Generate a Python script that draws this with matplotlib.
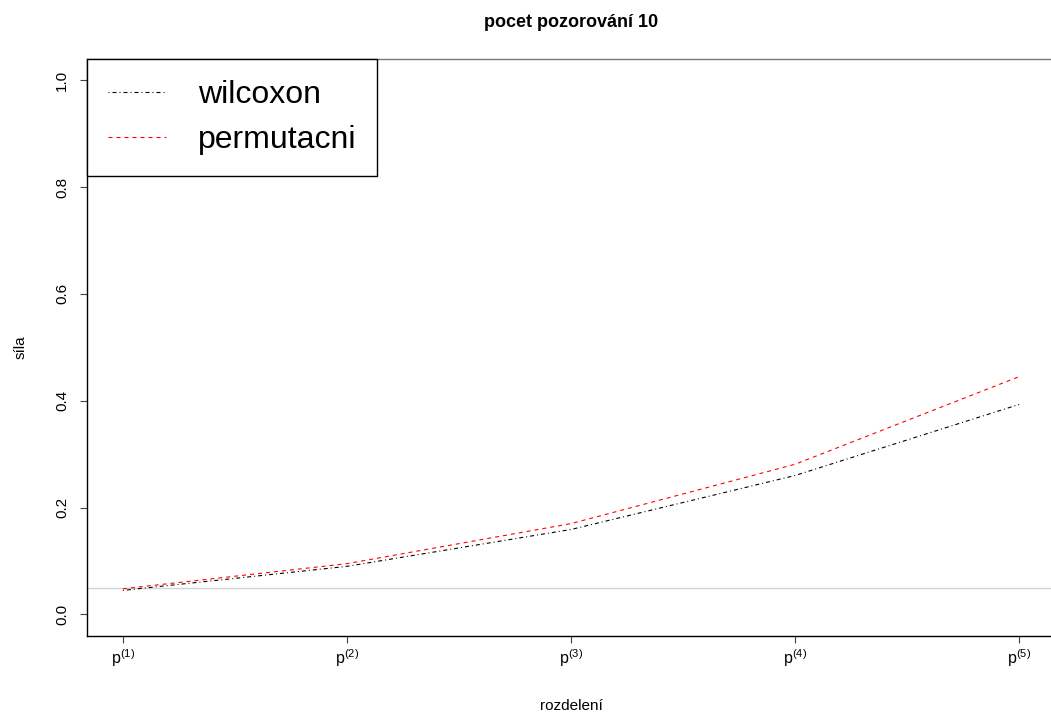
import matplotlib.pyplot as plt

plt.rcParams['font.family'] = ['Liberation Sans', 'DejaVu Sans']
plt.rcParams['mathtext.default'] = 'regular'

# power of the two tests for each distribution, 10 observations
rozdeleni = [1, 2, 3, 4, 5]
tick_labels = ['$p^{(1)}$', '$p^{(2)}$', '$p^{(3)}$', '$p^{(4)}$', '$p^{(5)}$']
wilcoxon = [0.045, 0.090, 0.159, 0.260, 0.393]
permutacni = [0.048, 0.095, 0.170, 0.281, 0.445]
alpha = 0.05

fig = plt.figure(figsize=(10.51, 7.16), dpi=100)
ax = fig.add_axes([0.0828, 0.112, 0.921, 0.806])

ax.axhline(alpha, color='#d3d3d3', lw=1.0, zorder=1)
ax.plot(rozdeleni, wilcoxon, color='black', lw=0.8, dashes=(0.9, 2.7, 3.6, 2.7),
        label='wilcoxon', zorder=2)
ax.plot(rozdeleni, permutacni, color='red', lw=0.8, dashes=(3.6, 3.6),
        label='permutacni', zorder=3)

ax.set_xlim(0.84, 5.16)
ax.set_ylim(-0.04, 1.04)
ax.set_xticks(rozdeleni)
ax.set_xticklabels(tick_labels, fontsize=11.5)
ax.set_yticks([0.0, 0.2, 0.4, 0.6, 0.8, 1.0])
ax.set_yticklabels(['0.0', '0.2', '0.4', '0.6', '0.8', '1.0'], fontsize=11,
                   rotation=90, va='center')
ax.tick_params(axis='both', length=5, width=0.8, color='#444444')
ax.tick_params(axis='y', pad=8)
ax.tick_params(axis='x', pad=3)

for side in ['left', 'bottom']:
    ax.spines[side].set_linewidth(1.0)
    ax.spines[side].set_color('black')
ax.spines['top'].set_color('#777777')
ax.spines['top'].set_linewidth(1.0)
ax.spines['right'].set_visible(False)

ax.set_title('pocet pozorování 10', fontsize=13, fontweight='bold', pad=23)
ax.set_xlabel('rozdelení', fontsize=11, labelpad=22)
ax.set_ylabel('síla', fontsize=11, labelpad=20)

leg = ax.legend(loc='upper left', bbox_to_anchor=(0, 1), borderaxespad=0,
                fontsize=23, handlelength=1.8, handletextpad=1.0,
                borderpad=0.66, labelspacing=0.47, fancybox=False,
                framealpha=1, edgecolor='black')
leg.get_frame().set_linewidth(1.0)

fig.savefig('out.png', dpi=100)
